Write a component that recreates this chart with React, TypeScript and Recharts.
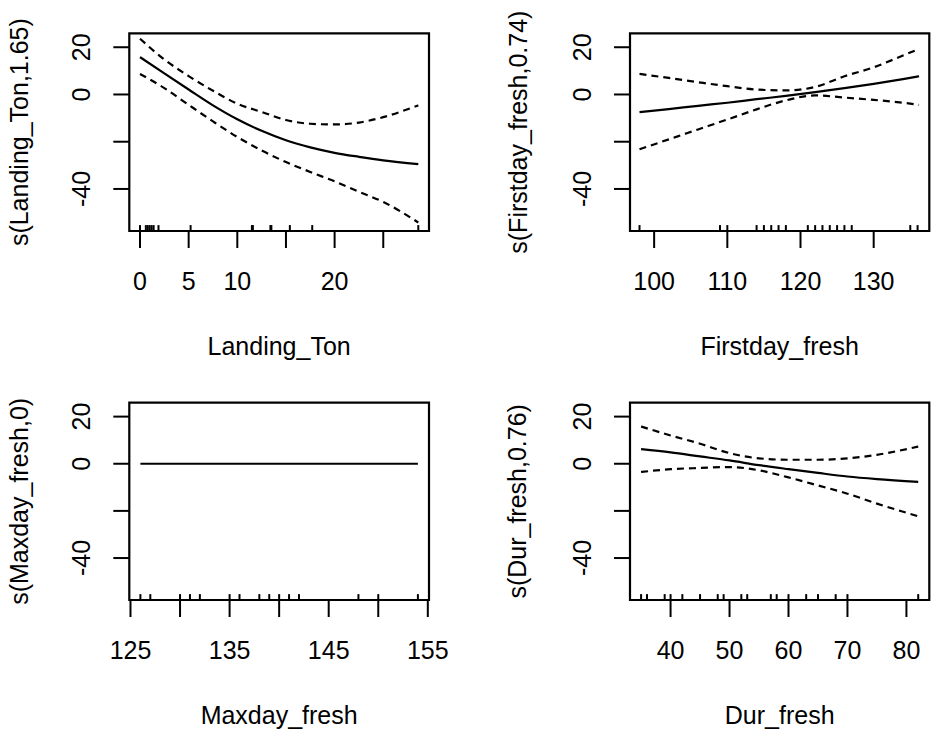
import {
  ComposedChart,
  Line,
  XAxis,
  YAxis,
  ReferenceArea,
  ReferenceLine,
} from "recharts";

const FONT = "'Liberation Sans', Arial, Helvetica, sans-serif";

// shared y scale (partial effect)
const yDomain = [-57.8, 25.9];
const yTicks = [-40, -20, 0, 20];
const yShown = [20, 0, -40];

// Landing_Ton
const landingX = [0, 2.5, 5, 7.5, 10, 12.5, 15, 17.5, 20, 22.5, 25, 28.6];
const landingFit = [15.8, 8.9, 2.1, -4.6, -10.5, -15.4, -19.4, -22.4, -24.7, -26.4, -27.9, -29.5];
const landingUpper = [23.6, 14.8, 7.8, 1.6, -3.9, -7.4, -10.8, -12.4, -12.7, -11.9, -9.6, -4.6];
const landingLower = [8.7, 2.7, -4.4, -11.4, -18, -23.7, -28.6, -32.8, -36.8, -41.2, -45.5, -54.2];
const landingRug = [0, 0.6, 0.8, 1, 1.2, 1.4, 1.9, 5.2, 11.5, 11.6, 13.4, 13.5, 15.4, 17.7, 28.6];
const landingTicks = [0, 5, 10, 15, 20, 25];
const landingLabels = [0, 5, 10, 20];

// Firstday_fresh
const firstX = [98, 102, 106, 110, 114, 118, 122, 126, 130, 134, 136.2];
const firstFit = [-7.5, -6.2, -4.8, -3.5, -2, -0.6, 1, 2.7, 4.5, 6.5, 7.7];
const firstUpper = [8.7, 7, 5.2, 3.5, 2.1, 1.7, 3.2, 7.7, 11.5, 16.5, 19.3];
const firstLower = [-23.2, -19, -14.8, -10.6, -6.3, -2.5, -0.4, -1.3, -2.3, -3.5, -4.4];
const firstRug = [98, 109, 110, 114, 115, 116, 117, 118, 121, 122, 123, 124, 125, 126, 127, 135, 136];
const firstTicks = [100, 110, 120, 130];

// Maxday_fresh
const maxX = [126, 154];
const maxFit = [0, 0];
const maxRug = [126, 127, 130, 131, 132, 135, 136, 138, 139, 140, 141, 142, 148, 150, 154];
const maxTicks = [125, 130, 135, 140, 145, 150, 155];
const maxLabels = [125, 135, 145, 155];

// Dur_fresh
const durX = [35, 40, 45, 50, 55, 60, 65, 70, 75, 82];
const durFit = [6.2, 4.8, 3.1, 1.4, -0.6, -2.3, -3.9, -5.4, -6.5, -7.7];
const durUpper = [15.8, 12, 8.5, 4.5, 2.3, 1.7, 1.7, 2.3, 3.8, 7.3];
const durLower = [-3.5, -2.3, -1.8, -1.4, -2.8, -5.8, -9.2, -12.7, -16.9, -22.3];
const durRug = [35, 36, 39, 40, 42, 45, 48, 49, 52, 53, 57, 58, 60, 63, 65, 68, 70, 82];
const durTicks = [40, 50, 60, 70, 80];

type PanelProps = {
  left: number;
  top: number;
  width: number;
  height: number;
  plot: { l: number; r: number; t: number; b: number };
  xDomain: number[];
  xTicks: number[];
  xLabels: number[];
  rows: { x: number; fit: number; upper?: number; lower?: number }[];
  bands: boolean;
  rug: number[];
  xTitle: string;
  yTitle: string;
  yTitleX: number;
};

const LW = 2.2;

function Panel(p: PanelProps) {
  const { l, r, t, b } = p.plot;
  // axes take 1px each, so margins are reduced by that
  const margin = { left: l - 1, right: p.width - r, top: t, bottom: p.height - b - 1 };
  return (
    <div style={{ position: "absolute", left: p.left, top: p.top, width: p.width, height: p.height }}>
      <ComposedChart width={p.width} height={p.height} data={p.rows} margin={margin}>
        <XAxis
          type="number"
          dataKey="x"
          domain={p.xDomain}
          allowDataOverflow
          ticks={p.xTicks}
          interval={0}
          height={1}
          tickSize={17}
          axisLine={false}
          tickLine={{ stroke: "#000", strokeWidth: 2 }}
          tick={(tp: any) => (
            <text
              x={tp.x}
              y={b + 58.5}
              textAnchor="middle"
              fontFamily={FONT}
              fontSize={25}
              fill="#000"
            >
              {p.xLabels.includes(tp.payload.value) ? tp.payload.value : ""}
            </text>
          )}
        />
        <YAxis
          type="number"
          domain={yDomain}
          allowDataOverflow
          ticks={yTicks}
          interval={0}
          width={1}
          tickSize={16}
          axisLine={false}
          tickLine={{ stroke: "#000", strokeWidth: 2 }}
          tick={(tp: any) => (
            <text
              transform={`translate(${l - 39}, ${tp.y}) rotate(-90)`}
              textAnchor="middle"
              fontFamily={FONT}
              fontSize={25}
              fill="#000"
            >
              {yShown.includes(tp.payload.value) ? String(tp.payload.value) : ""}
            </text>
          )}
        />
        {p.rug.map((v, i) => (
          <ReferenceLine
            key={i}
            segment={[
              { x: v, y: yDomain[0] },
              { x: v, y: yDomain[0] + 2.5 },
            ]}
            stroke="#000"
            strokeWidth={2}
            ifOverflow="visible"
          />
        ))}
        <Line
          dataKey="fit"
          type="monotone"
          stroke="#000"
          strokeWidth={LW}
          dot={false}
          isAnimationActive={false}
        />
        {p.bands && (
          <Line
            dataKey="upper"
            type="monotone"
            stroke="#000"
            strokeWidth={LW}
            strokeDasharray="7 5"
            dot={false}
            isAnimationActive={false}
          />
        )}
        {p.bands && (
          <Line
            dataKey="lower"
            type="monotone"
            stroke="#000"
            strokeWidth={LW}
            strokeDasharray="7 5"
            dot={false}
            isAnimationActive={false}
          />
        )}
        <ReferenceArea
          x1={p.xDomain[0]}
          x2={p.xDomain[1]}
          y1={yDomain[0]}
          y2={yDomain[1]}
          fill="none"
          stroke="#000"
          strokeWidth={LW}
          ifOverflow="visible"
        />
      </ComposedChart>
      <svg
        width={p.width}
        height={p.height}
        style={{ position: "absolute", left: 0, top: 0, pointerEvents: "none" }}
      >
        <text
          x={(l + r) / 2}
          y={b + 124}
          textAnchor="middle"
          fontFamily={FONT}
          fontSize={25}
          fill="#000"
        >
          {p.xTitle}
        </text>
        <text
          transform={`translate(${p.yTitleX}, ${(t + b) / 2}) rotate(-90)`}
          textAnchor="middle"
          fontFamily={FONT}
          fontSize={25}
          fill="#000"
        >
          {p.yTitle}
        </text>
      </svg>
    </div>
  );
}

export default function App() {
  const landingRows = landingX.map((x, i) => ({
    x,
    fit: landingFit[i],
    upper: landingUpper[i],
    lower: landingLower[i],
  }));
  const firstRows = firstX.map((x, i) => ({
    x,
    fit: firstFit[i],
    upper: firstUpper[i],
    lower: firstLower[i],
  }));
  const maxRows = maxX.map((x, i) => ({ x, fit: maxFit[i] }));
  const durRows = durX.map((x, i) => ({
    x,
    fit: durFit[i],
    upper: durUpper[i],
    lower: durLower[i],
  }));

  return (
    <div
      style={{
        position: "absolute",
        left: 0,
        top: 0,
        width: 935,
        height: 736,
        background: "#fff",
        overflow: "hidden",
      }}
    >
      <Panel
        left={0}
        top={0}
        width={467}
        height={368}
        plot={{ l: 129.3, r: 429, t: 33.3, b: 231 }}
        xDomain={[-1.1, 29.7]}
        xTicks={landingTicks}
        xLabels={landingLabels}
        rows={landingRows}
        bands
        rug={landingRug}
        xTitle="Landing_Ton"
        yTitle="s(Landing_Ton,1.65)"
        yTitleX={28}
      />
      <Panel
        left={467}
        top={0}
        width={468}
        height={368}
        plot={{ l: 163, r: 462.3, t: 33.3, b: 231 }}
        xDomain={[96.7, 137.6]}
        xTicks={firstTicks}
        xLabels={firstTicks}
        rows={firstRows}
        bands
        rug={firstRug}
        xTitle="Firstday_fresh"
        yTitle="s(Firstday_fresh,0.74)"
        yTitleX={59.5}
      />
      <Panel
        left={0}
        top={368}
        width={467}
        height={368}
        plot={{ l: 129.3, r: 429, t: 34.7, b: 232 }}
        xDomain={[124.88, 155.12]}
        xTicks={maxTicks}
        xLabels={maxLabels}
        rows={maxRows}
        bands={false}
        rug={maxRug}
        xTitle="Maxday_fresh"
        yTitle="s(Maxday_fresh,0)"
        yTitleX={28}
      />
      <Panel
        left={467}
        top={368}
        width={468}
        height={368}
        plot={{ l: 163, r: 462.3, t: 34.7, b: 232 }}
        xDomain={[33.12, 83.88]}
        xTicks={durTicks}
        xLabels={durTicks}
        rows={durRows}
        bands
        rug={durRug}
        xTitle="Dur_fresh"
        yTitle="s(Dur_fresh,0.76)"
        yTitleX={59}
      />
    </div>
  );
}
